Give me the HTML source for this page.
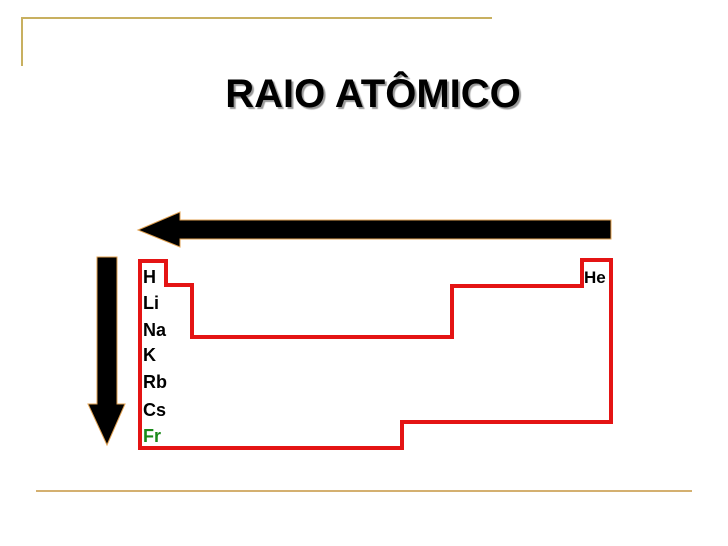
<!DOCTYPE html>
<html><head><meta charset="utf-8"><style>
body{margin:0;width:728px;height:546px;background:#fff;overflow:hidden;position:relative;font-family:"Liberation Sans",Arial,sans-serif}
.t{position:absolute;left:0;width:746px;top:70px;text-align:center;font-weight:bold;font-size:40px;line-height:48px;color:#000;text-shadow:2px 2px 1px #999}
.l{position:absolute;left:143px;font-weight:bold;font-size:18px;line-height:20px;color:#000}
</style></head><body>
<svg width="728" height="546" style="position:absolute;left:0;top:0">
<path d="M22 66 V18 H492" stroke="#c8b060" stroke-width="2" fill="none"/>
<path d="M36 491 H692" stroke="#d4b070" stroke-width="2" fill="none"/>
<path d="M611 220 V239 H180 V247 L138 230 L180 212 V220 Z" fill="#000" stroke="#e0a050" stroke-width="1"/>
<path d="M97 257 H117 V404 H125 L107 445 L88 404 H97 Z" fill="#000" stroke="#e0a050" stroke-width="1"/>
<path d="M140 261 H166 V285 H192 V337 H452 V286 H582 V260 H611 V422 H402 V448 H140 Z" fill="none" stroke="#e41414" stroke-width="4"/>
</svg>
<div class="t">RAIO ATÔMICO</div>
<div class="l" style="top:267px">H</div>
<div class="l" style="top:293px">Li</div>
<div class="l" style="top:320px">Na</div>
<div class="l" style="top:345px">K</div>
<div class="l" style="top:372px">Rb</div>
<div class="l" style="top:400px">Cs</div>
<div class="l" style="top:426px;color:#1a8a1a">Fr</div>
<div class="l" style="top:268px;left:584px;font-size:17px">He</div>
</body></html>
